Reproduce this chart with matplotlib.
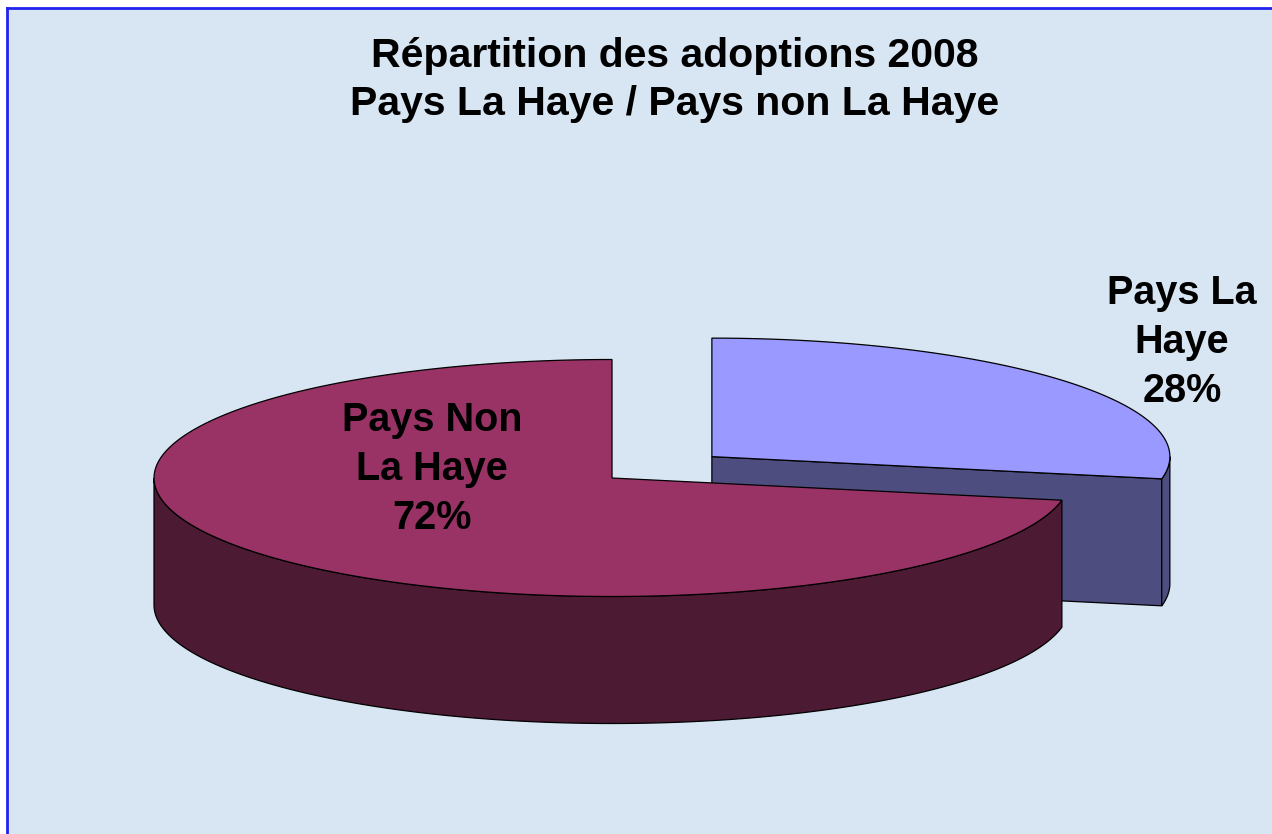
import numpy as np
import matplotlib.pyplot as plt
from matplotlib.patches import Polygon, Rectangle

# donnees
labels = ["Pays La\nHaye", "Pays Non\nLa Haye"]
values = [28, 72]
top_colors = ["#9999FF", "#993366"]
side_colors = ["#4D4D80", "#4D1A33"]
explode = [0.283, 0.0]

title = "Répartition des adoptions 2008\nPays La Haye / Pays non La Haye"

plt.rcParams['font.family'] = ['Liberation Sans', 'DejaVu Sans']

fig = plt.figure(figsize=(12.72, 8.34), dpi=100)
fig.patch.set_facecolor("white")
ax = fig.add_axes([0, 0, 1, 1])
ax.set_xlim(0, 1272)
ax.set_ylim(834, 0)
ax.axis('off')

# fond + bordure (haut et gauche seulement)
ax.add_patch(Rectangle((7, 8), 1272, 834, facecolor="#D8E5F3", edgecolor="none", zorder=0))
ax.plot([7, 1272], [8, 8], color="#2222EE", lw=2, zorder=1)
ax.plot([7, 7], [8, 834], color="#2222EE", lw=2, zorder=1)

# geometrie du camembert 3D (pixels)
cx, cy = 612, 478
a, b = 458, 118.5
depth = 127
ec = "black"
lw = 0.9


def pt(c, t, dy=0):
    return (c[0] + a * np.cos(t), c[1] - b * np.sin(t) + dy)


def arc(c, t0, t1, dy=0, n=150):
    return [pt(c, t, dy) for t in np.linspace(t0, t1, n)]


# angles: depart a 12h, sens horaire
total = float(sum(values))
start = np.pi / 2
slices = []
for i, v in enumerate(values):
    sweep = v / total * 2 * np.pi
    t0, t1 = start - sweep, start
    mid = (t0 + t1) / 2
    c = (cx + explode[i] * a * np.cos(mid), cy - explode[i] * b * np.sin(mid))
    slices.append((t0, t1, c))
    start -= sweep

for i, (t0, t1, c) in enumerate(slices):
    z = 2 + 3 * i
    # faces radiales visibles (tournees vers l'avant)
    if np.cos(t0) > 1e-9:
        p = pt(c, t0)
        face = [c, p, (p[0], p[1] + depth), (c[0], c[1] + depth)]
        ax.add_patch(Polygon(face, closed=True, facecolor=side_colors[i], edgecolor=ec, lw=lw, zorder=z))
    if np.cos(t1) < -1e-9:
        p = pt(c, t1)
        face = [c, p, (p[0], p[1] + depth), (c[0], c[1] + depth)]
        ax.add_patch(Polygon(face, closed=True, facecolor=side_colors[i], edgecolor=ec, lw=lw, zorder=z))
    # paroi exterieure: partie avant (sin < 0)
    for k in (-1, 0, 1):
        lo = max(t0, -np.pi + 2 * np.pi * k)
        hi = min(t1, 2 * np.pi * k)
        if hi > lo:
            wall = arc(c, lo, hi) + arc(c, hi, lo, depth)
            ax.add_patch(Polygon(wall, closed=True, facecolor=side_colors[i], edgecolor=ec, lw=lw, zorder=z + 1))
    # face superieure
    ax.add_patch(Polygon([c] + arc(c, t0, t1), closed=True, facecolor=top_colors[i],
                         edgecolor=ec, lw=lw, zorder=z + 2))

# etiquettes
ax.text(1182, 342, f"{labels[0]}\n{values[0]}%", ha="center", va="center", fontsize=28.5,
        fontweight="bold", linespacing=1.38, zorder=10)
ax.text(432, 469, f"{labels[1]}\n{values[1]}%", ha="center", va="center", fontsize=28.5,
        fontweight="bold", linespacing=1.38, zorder=10)

ax.text(675, 80, title, ha="center", va="center", fontsize=29.5, fontweight="bold",
        linespacing=1.31, zorder=10)

fig.savefig("out.png", dpi=100, facecolor=fig.get_facecolor())
